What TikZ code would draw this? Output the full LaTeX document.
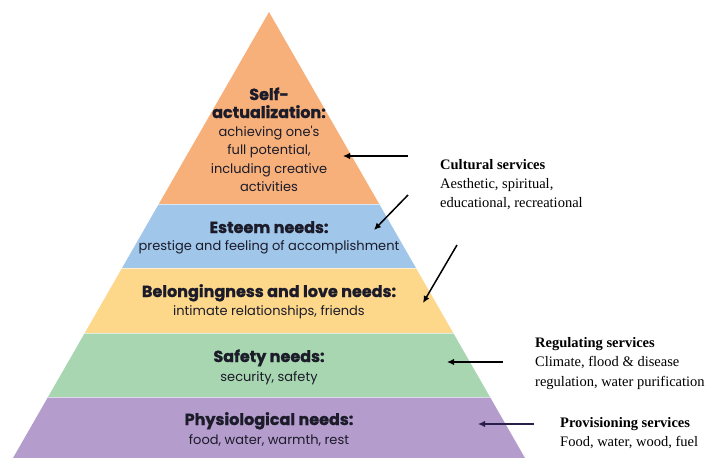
\documentclass[tikz,border=0pt]{standalone}
\usepackage{fontspec}
\setmainfont{Liberation Serif}
\newfontfamily\pyrfont[BoldFeatures={FakeBold=1.2}]{Poppins}
\usetikzlibrary{arrows.meta}

\definecolor{selfc}{HTML}{F7B07A}
\definecolor{esteemc}{HTML}{A0C6EA}
\definecolor{lovec}{HTML}{FDD88A}
\definecolor{safetyc}{HTML}{A8D6B0}
\definecolor{physc}{HTML}{B49CCC}
\definecolor{pyrtext}{HTML}{1B1B2A}
\definecolor{arrowdark}{HTML}{2A1F4A}

\tikzset{
  pyrhead/.style={font=\pyrfont\bfseries\fontsize{16}{18}\selectfont, text=pyrtext, inner sep=0pt, anchor=base},
  pyrbody/.style={font=\pyrfont\fontsize{13}{16}\selectfont, text=pyrtext, inner sep=0pt, anchor=base},
  svchead/.style={font=\bfseries\fontsize{14.5}{16}\selectfont, inner sep=0pt, anchor=base west},
  svcbody/.style={font=\fontsize{14.5}{16}\selectfont, inner sep=0pt, anchor=base west},
  svcarrow/.style={line width=1.5pt, -{Latex[length=7pt,width=6.5pt]}},
  bandline/.style={white, line width=1pt, opacity=0.6}
}

\begin{document}
\begin{tikzpicture}[x=1pt,y=-1pt]
\fill[white] (0,0) rectangle (710,458);
\useasboundingbox (0,0) rectangle (710,458);

% pyramid outline
\coordinate (apex) at (269,12);
\coordinate (baseL) at (13,458);
\coordinate (baseR) at (525,458);

% coloured levels, cut to the triangle
\begin{scope}
  \clip (apex) -- (baseR) -- (baseL) -- cycle;
  \fill[selfc]   (0,0)   rectangle (710,204);
  \fill[esteemc] (0,204) rectangle (710,268);
  \fill[lovec]   (0,268) rectangle (710,333);
  \fill[safetyc] (0,333) rectangle (710,397);
  \fill[physc]   (0,397) rectangle (710,460);
  \draw[bandline] (0,204) -- (710,204);
  \draw[bandline] (0,268) -- (710,268);
  \draw[bandline] (0,333) -- (710,333);
  \draw[bandline] (0,397) -- (710,397);
\end{scope}

% level captions
\node[pyrhead] (sa1) at (269,100) {Self-};
\node[pyrhead] (sa2) at (269,118) {actualization:};
\node[pyrbody] (sa3) at (269,136) {achieving one's};
\node[pyrbody] (sa4) at (269,154) {full potential,};
\node[pyrbody] (sa5) at (269,173) {including creative};
\node[pyrbody] (sa6) at (269,191) {activities};

\node[pyrhead] (es1) at (269,233) {Esteem needs:};
\node[pyrbody] (es2) at (269,250) {prestige and feeling of accomplishment};

\node[pyrhead] (bl1) at (269,297) {Belongingness and love needs:};
\node[pyrbody] (bl2) at (269,315) {intimate relationships, friends};

\node[pyrhead] (sf1) at (269,362) {Safety needs:};
\node[pyrbody] (sf2) at (269,381) {security, safety};

\node[pyrhead] (ph1) at (269,425) {Physiological needs:};
\node[pyrbody] (ph2) at (269,444) {food, water, warmth, rest};

% ecosystem services
\node[svchead] (cu1) at (440,169) {Cultural services};
\node[svcbody] (cu2) at (440,188) {Aesthetic, spiritual,};
\node[svcbody] (cu3) at (440,207) {educational, recreational};

\node[svchead] (rg1) at (535,347) {Regulating services};
\node[svcbody] (rg2) at (535,366) {Climate, flood \& disease};
\node[svcbody] (rg3) at (535,386) {regulation, water purification};

\node[svchead] (pv1) at (560,427) {Provisioning services};
\node[svcbody] (pv2) at (560,446) {Food, water, wood, fuel};

% arrows into the pyramid
\coordinate (a1t) at (408,156); \coordinate (a1h) at (343,156);
\coordinate (a2t) at (408,195); \coordinate (a2h) at (374,230);
\coordinate (a3t) at (457,245); \coordinate (a3h) at (423,303);
\coordinate (a4t) at (503,362); \coordinate (a4h) at (447,362);
\coordinate (a5t) at (534,424); \coordinate (a5h) at (478,424);
\draw[svcarrow] (a1t) -- (a1h);
\draw[svcarrow] (a2t) -- (a2h);
\draw[svcarrow] (a3t) -- (a3h);
\draw[svcarrow] (a4t) -- (a4h);
\draw[svcarrow, arrowdark] (a5t) -- (a5h);
\end{tikzpicture}
\end{document}
